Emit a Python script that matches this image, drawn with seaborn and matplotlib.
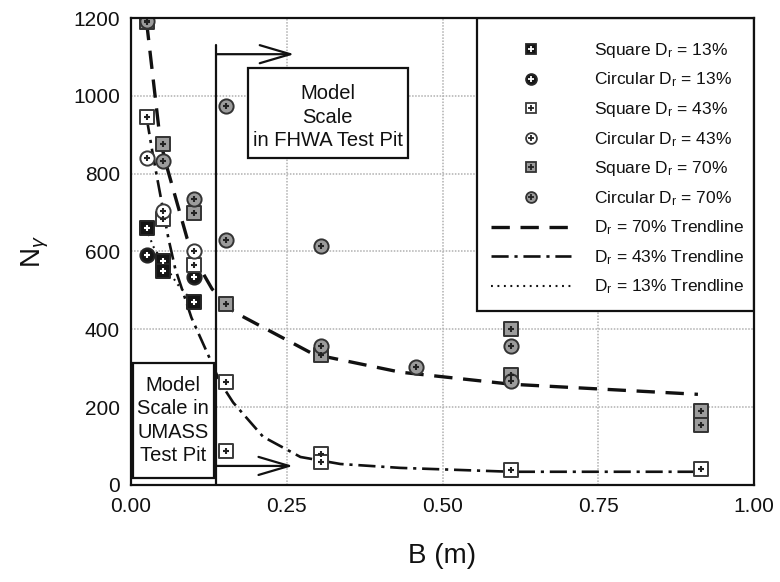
import matplotlib
matplotlib.use("Agg")
import matplotlib.pyplot as plt
import seaborn as sns
import pandas as pd
from matplotlib.lines import Line2D
from matplotlib.patches import Rectangle

# ---------------- data ----------------
sq13_B = [0.0254, 0.0508, 0.0508, 0.1016]
sq13_N = [660, 575, 550, 470]
ci13_B = [0.0254, 0.1016]
ci13_N = [590, 535]
sq43_B = [0.0254, 0.0508, 0.1016, 0.1524, 0.1524, 0.3048, 0.3048, 0.6096, 0.9144]
sq43_N = [945, 683, 565, 265, 88, 80, 60, 38, 42]
ci43_B = [0.0254, 0.0508, 0.1016]
ci43_N = [840, 703, 602]
sq70_B = [0.0254, 0.0508, 0.1016, 0.1524, 0.3048, 0.6096, 0.6096, 0.9144, 0.9144]
sq70_N = [1190, 875, 700, 465, 333, 400, 282, 190, 155]
ci70_B = [0.0254, 0.0508, 0.1016, 0.1524, 0.1524, 0.3048, 0.3048, 0.4572, 0.6096, 0.6096]
ci70_N = [1192, 833, 735, 975, 630, 615, 357, 303, 357, 266]

tr70_B = [0.025, 0.047, 0.058, 0.09, 0.116, 0.13, 0.159, 0.178, 0.293, 0.432, 0.61, 0.91]
tr70_N = [1190, 884, 815, 634, 543, 504, 452, 434, 336, 290, 259, 233]
tr43_B = [0.025, 0.034, 0.042, 0.06, 0.071, 0.097, 0.127, 0.143, 0.164, 0.212, 0.272, 0.336, 0.432, 0.61, 0.91]
tr43_N = [945, 859, 789, 634, 556, 430, 323, 264, 212, 124, 72, 54, 44, 34, 34]
tr13_B = [0.025, 0.035, 0.05, 0.075, 0.10]
tr13_N = [660, 615, 575, 515, 470]

x_ticks = [0.00, 0.25, 0.50, 0.75, 1.00]
x_ticklabels = ["0.00", "0.25", "0.50", "0.75", "1.00"]
y_ticks = [0, 200, 400, 600, 800, 1000, 1200]

labels = ["Square D$_\\mathregular{r}$ = 13%", "Circular D$_\\mathregular{r}$ = 13%",
          "Square D$_\\mathregular{r}$ = 43%", "Circular D$_\\mathregular{r}$ = 43%",
          "Square D$_\\mathregular{r}$ = 70%", "Circular D$_\\mathregular{r}$ = 70%",
          "D$_\\mathregular{r}$ = 70% Trendline", "D$_\\mathregular{r}$ = 43% Trendline",
          "D$_\\mathregular{r}$ = 13% Trendline"]

# ---------------- style ----------------
sns.set_theme(style="white")
plt.rcParams['font.family'] = ['Liberation Sans', 'DejaVu Sans']
plt.rcParams['mathtext.fontset'] = 'custom'
plt.rcParams['mathtext.rm'] = 'Liberation Sans'
plt.rcParams['mathtext.it'] = 'Liberation Sans:italic'

fig = plt.figure(figsize=(7.8, 5.82), dpi=100)
AX_L, AX_R, AX_T, AX_B = 131, 754, 18, 485
ax = fig.add_axes([AX_L / 780, 1 - AX_B / 582, (AX_R - AX_L) / 780, (AX_B - AX_T) / 582])

def ax_x(px):
    return (px - AX_L) / (AX_R - AX_L)

def ax_y(py):
    return (AX_B - py) / (AX_B - AX_T)

EDGE = "#262626"
GRAY = "#9c9c9c"
series = [
    (sq13_B, sq13_N, 's', "#151515", EDGE, 'white'),
    (ci13_B, ci13_N, 'o', "#151515", EDGE, 'white'),
    (sq43_B, sq43_N, 's', "white", "#3a3a3a", '#222222'),
    (ci43_B, ci43_N, 'o', "white", "#3a3a3a", '#222222'),
    (sq70_B, sq70_N, 's', GRAY, "#333333", '#222222'),
    (ci70_B, ci70_N, 'o', GRAY, "#333333", '#222222'),
]

# trendlines
lines_spec = [
    (tr70_B, tr70_N, dict(color="#111111", lw=2.4, dashes=(5.5, 3.2))),
    (tr43_B, tr43_N, dict(color="#111111", lw=1.9, dashes=(6.5, 2.2, 1.2, 2.2))),
    (tr13_B, tr13_N, dict(color="#111111", lw=1.5, dashes=(0.9, 2.2))),
]
for bx, ny, kw in lines_spec:
    d = pd.DataFrame({"B": bx, "N": ny})
    sns.lineplot(data=d, x="B", y="N", ax=ax, sort=False, estimator=None,
                 zorder=3, color=kw['color'], lw=kw['lw'])
    ax.lines[-1].set_dashes(kw['dashes'])

for bx, ny, mk, fc, ec, inner in series:
    d = pd.DataFrame({"B": bx, "N": ny})
    sns.scatterplot(data=d, x="B", y="N", ax=ax, marker=mk, s=105, color=fc,
                    edgecolor=ec, linewidth=1.4, zorder=4)
    sns.scatterplot(data=d, x="B", y="N", ax=ax, marker='+', s=22, color=inner,
                    linewidth=1.5, zorder=5)

# ---------------- annotations ----------------
ax.plot([0.137, 0.137], [0, 1130], color="#111111", lw=1.6, zorder=6)
arrow_kw = dict(arrowstyle="->,head_length=2.2,head_width=0.65", lw=1.6, color="#111111",
                shrinkA=0, shrinkB=0, mutation_scale=10)
ax.annotate("", xy=(0.262, 1107), xytext=(0.137, 1107), arrowprops=arrow_kw, zorder=6)
ax.annotate("", xy=(0.260, 49), xytext=(0.137, 49), arrowprops=arrow_kw, zorder=6)

ax.add_patch(Rectangle((0.188, 840), 0.444 - 0.188, 1071 - 840, facecolor='white',
                       edgecolor='#111111', lw=1.6, zorder=7))
ax.text((0.188 + 0.444) / 2, 945, "Model\nScale\nin FHWA Test Pit",
        ha='center', va='center', fontsize=14.5, linespacing=1.3, zorder=8, color='#111111')
ax.add_patch(Rectangle((0.003, 18), 0.133 - 0.003, 313 - 18, facecolor='white',
                       edgecolor='#111111', lw=1.6, zorder=7))
ax.text((0.003 + 0.133) / 2, 166, "Model\nScale in\nUMASS\nTest Pit",
        ha='center', va='center', fontsize=14.5, linespacing=1.3, zorder=8, color='#111111')

# ---------------- axes ----------------
ax.set_xlim(0, 1.0)
ax.set_ylim(0, 1200)
ax.set_xticks(x_ticks)
ax.set_xticklabels(x_ticklabels)
ax.set_yticks(y_ticks)
ax.grid(True, color="#b0b0b0", linestyle=(0, (1, 1)), linewidth=1.1, zorder=0)
ax.set_axisbelow(True)
for s in ax.spines.values():
    s.set_color("#111111")
    s.set_linewidth(1.6)
    s.set_zorder(12)
ax.tick_params(axis='both', direction='in', length=6, width=1.2, color='#111111',
               labelsize=15, labelcolor='#111111')
ax.tick_params(axis='y', pad=8)
ax.tick_params(axis='x', pad=9)
ax.set_xlabel("B (m)", fontsize=20, color='#111111', labelpad=19)
ax.set_ylabel("N$_\\gamma$", fontsize=20, color='#111111', labelpad=16)

# ---------------- legend ----------------
handles = []
for bx, ny, mk, fc, ec, inner in series:
    outer = Line2D([], [], linestyle='none', marker=mk, markersize=7.8, markerfacecolor=fc,
                   markeredgecolor=ec, markeredgewidth=1.3)
    inn = Line2D([], [], linestyle='none', marker='+', markersize=4, color=inner,
                 markeredgewidth=1.3)
    handles.append((outer, inn))
for bx, ny, kw in lines_spec:
    ln = Line2D([], [], color=kw['color'], lw=kw['lw'])
    ln.set_dashes(kw['dashes'])
    handles.append(ln)

ax.add_patch(Rectangle((ax_x(477), ax_y(311)), 1 - ax_x(477), 1 - ax_y(311),
                       transform=ax.transAxes, facecolor='white', edgecolor='#111111',
                       lw=1.6, zorder=9))
leg = ax.legend(handles, labels, loc='upper left', bbox_to_anchor=(ax_x(491), ax_y(41)),
                borderaxespad=0, fontsize=12.5, handlelength=4.6, handletextpad=1.35,
                labelspacing=0.62, borderpad=0, frameon=False, numpoints=1)
leg.set_zorder(10)
for t in leg.get_texts():
    t.set_color('#111111')

fig.savefig("out.png", dpi=100)
